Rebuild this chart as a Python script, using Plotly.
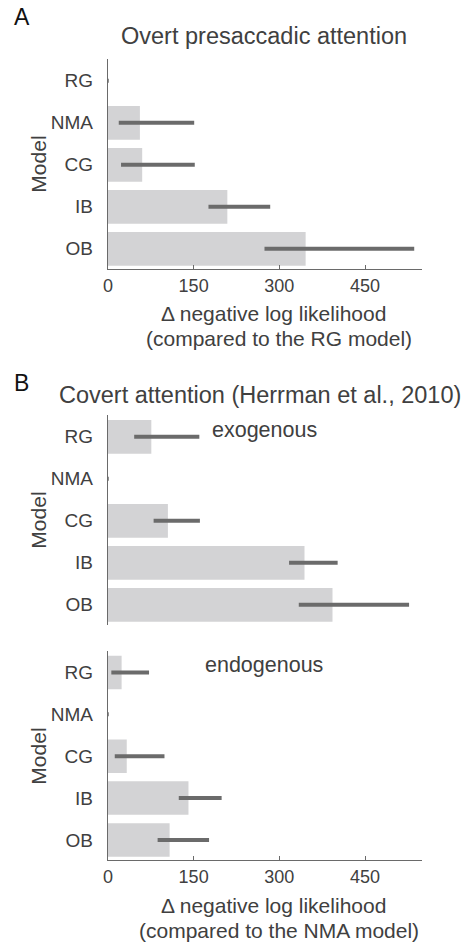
import plotly.graph_objects as go

# Model names, top to bottom
models = ["RG", "NMA", "CG", "IB", "OB"]

# A: overt presaccadic attention, delta NLL relative to the RG model
overt_mean = [0, 56, 60, 209, 346]
overt_lo = [0, 19, 23, 176, 274]
overt_hi = [1.5, 151, 152, 284, 536]

# B: covert attention, exogenous, delta NLL relative to the NMA model
exo_mean = [76, 0, 105, 344, 393]
exo_lo = [46, 0, 80, 317, 334]
exo_hi = [160, 1.5, 161, 402, 527]

# B: covert attention, endogenous, delta NLL relative to the NMA model
endo_mean = [24, 0, 33, 141, 108]
endo_lo = [6, 0, 12, 124, 87]
endo_hi = [72, 1.5, 99, 199, 177]

x_ticks = [0, 150, 300, 450]
x_max = 550

W, H = 471, 945
FONT = "Liberation Sans, Arial, Helvetica, sans-serif"
TEXT = "#404040"
BAR = "#d3d3d5"
ERR = "#6b6b6b"
AXIS = "#6a6a6a"


def px(x):
    return x / W


def py(y):
    return 1 - y / H


def bar_trace(mean, lo, hi, xa, ya):
    return go.Bar(
        orientation="h",
        x=mean,
        y=models,
        xaxis=xa,
        yaxis=ya,
        width=0.8,
        marker=dict(color=BAR, line=dict(width=0)),
        error_x=dict(
            type="data",
            symmetric=False,
            array=[h - m for h, m in zip(hi, mean)],
            arrayminus=[m - l for m, l in zip(mean, lo)],
            color=ERR,
            thickness=4,
            width=0,
        ),
        hoverinfo="skip",
    )


fig = go.Figure()
fig.add_trace(bar_trace(overt_mean, overt_lo, overt_hi, "x", "y"))
fig.add_trace(bar_trace(exo_mean, exo_lo, exo_hi, "x2", "y2"))
fig.add_trace(bar_trace(endo_mean, endo_lo, endo_hi, "x3", "y3"))

x_dom = [px(104), px(421.7)]
cat_range = [4.48, -0.52]

xcommon = dict(
    domain=x_dom,
    range=[0, x_max],
    showgrid=False,
    zeroline=False,
    showline=True,
    linecolor=AXIS,
    linewidth=1.2,
    ticks="inside",
    ticklen=4,
    tickcolor=AXIS,
    tickwidth=1,
    tickvals=x_ticks,
    tickfont=dict(family=FONT, size=18, color=TEXT),
    fixedrange=True,
)

ycommon = dict(
    type="category",
    categoryorder="array",
    categoryarray=models,
    range=cat_range,
    showgrid=False,
    zeroline=False,
    showline=True,
    linecolor=AXIS,
    linewidth=1.2,
    ticks="",
    ticklabelstandoff=10,
    tickfont=dict(family=FONT, size=19, color=TEXT),
    fixedrange=True,
)

fig.update_layout(
    width=W,
    height=H,
    margin=dict(l=0, r=0, t=0, b=0),
    paper_bgcolor="white",
    plot_bgcolor="white",
    showlegend=False,
    barmode="overlay",
    xaxis=dict(xcommon, anchor="y"),
    yaxis=dict(ycommon, anchor="x", domain=[py(269), py(59)]),
    xaxis2=dict(xcommon, anchor="y2", visible=False),
    yaxis2=dict(ycommon, anchor="x2", domain=[py(625), py(415)]),
    xaxis3=dict(xcommon, anchor="y3"),
    yaxis3=dict(ycommon, anchor="x3", domain=[py(860), py(650.7)]),
)


def label(text, x, y, size, color=TEXT, angle=0):
    fig.add_annotation(
        text=text,
        x=px(x),
        y=py(y),
        xref="paper",
        yref="paper",
        xanchor="center",
        yanchor="middle",
        showarrow=False,
        textangle=angle,
        font=dict(family=FONT, size=size, color=color),
    )


# panel letters
label("A", 17, 17, 23, "#111111")
label("B", 17, 383, 23, "#111111")

# panel titles
label("Overt presaccadic attention", 262, 36, 23.5)
label("Covert attention (Herrman et al., 2010)", 257.5, 395, 23.5)

# condition labels
label("exogenous", 262, 430, 21.5)
label("endogenous", 262, 665, 21.5)

# y-axis titles
label("Model", 33, 164, 21, angle=-90)
label("Model", 33, 520, 21, angle=-90)
label("Model", 33, 756, 21, angle=-90)

# x-axis titles
label("Δ negative log likelihood", 271, 313, 21)
label("(compared to the RG model)", 277, 338, 21)
label("Δ negative log likelihood", 271, 905, 21)
label("(compared to the NMA model)", 277, 930, 21)

fig.write_html("out.html")
